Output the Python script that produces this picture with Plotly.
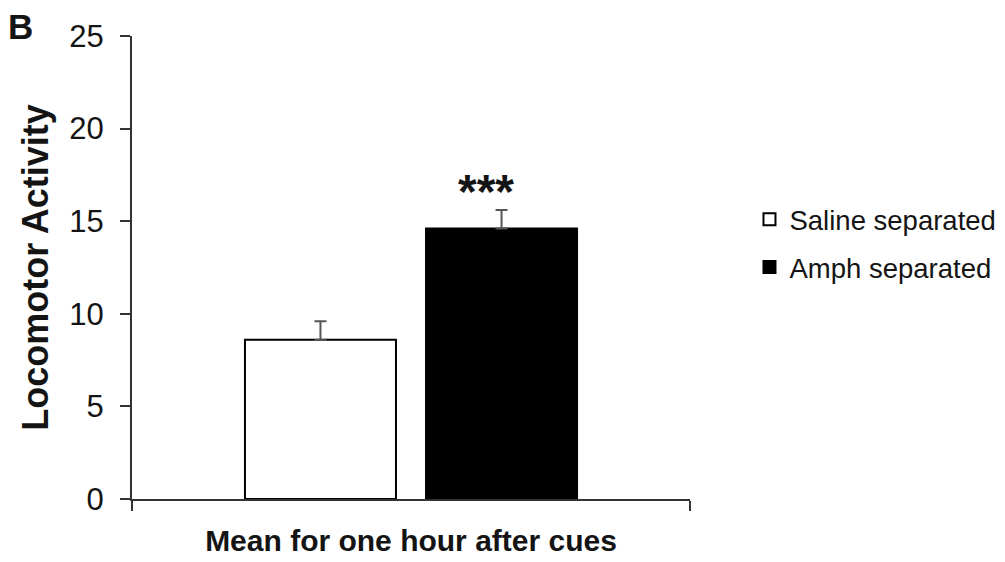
import plotly.graph_objects as go

categories = ["Mean for one hour after cues"]
series_names = ["Saline separated", "Amph separated"]
means = [8.6, 14.6]
sems = [1.0, 1.0]
fill_colors = ["white", "black"]
y_ticks = [0, 5, 10, 15, 20, 25]
signif = "***"

FONT = "Liberation Sans, Arial, sans-serif"
TXT = "#141414"

fig = go.Figure()
for i, name in enumerate(series_names):
    fig.add_trace(go.Bar(
        x=categories, y=[means[i]], name=name,
        legendgroup=name,
        marker=dict(color=fill_colors[i], line=dict(color="black", width=2)),
        error_y=dict(type="data", symmetric=False, array=[sems[i]], arrayminus=[0],
                     color="#555555", thickness=2, width=6),
    ))

fig.add_annotation(x=categories[0], y=means[1] + sems[1], xref="x", yref="y",
                   text="<b>" + signif + "</b>", showarrow=False,
                   xshift=75, yshift=19, font=dict(family=FONT, size=48, color=TXT))
fig.add_annotation(x=-0.226, y=1.068, xref="paper", yref="paper", xanchor="left", yanchor="top",
                   text="<b>B</b>", showarrow=False, font=dict(family=FONT, size=35, color=TXT))

# page body has an 8px margin, so the figure is 8px smaller and margins shifted
fig.update_layout(
    width=997, height=554,
    margin=dict(l=124, r=315, t=28, b=63, autoexpand=False),
    paper_bgcolor="white", plot_bgcolor="white",
    barmode="group", bargap=0.351, bargroupgap=0.166,
    font=dict(family=FONT, color=TXT),
    legend=dict(x=1.1066, y=0.657, xanchor="left", yanchor="top",
                font=dict(family=FONT, size=27.5, color=TXT),
                tracegroupgap=9, traceorder="grouped", bgcolor="rgba(0,0,0,0)",
                borderwidth=0),
    showlegend=True,
)
fig.update_xaxes(
    type="category", tickson="boundaries", ticks="outside", ticklen=10, tickwidth=2,
    tickcolor="#333", showline=True, linecolor="#333", linewidth=2, automargin=False,
    showticklabels=False, showgrid=False, zeroline=False,
    title=dict(text="<b>" + categories[0] + "</b>", font=dict(family=FONT, size=30, color=TXT), standoff=30),
)
fig.update_yaxes(
    range=[0, 25], tickvals=y_ticks, ticks="outside", ticklen=10, tickwidth=2,
    tickcolor="#333", showline=True, linecolor="#333", linewidth=2, automargin=False,
    showgrid=False, zeroline=False, ticklabelstandoff=10,
    tickfont=dict(family=FONT, size=31, color=TXT),
    title=dict(text="<b>Locomotor Activity</b>", font=dict(family=FONT, size=36, color=TXT), standoff=10),
)

fig.write_html("out.html")
